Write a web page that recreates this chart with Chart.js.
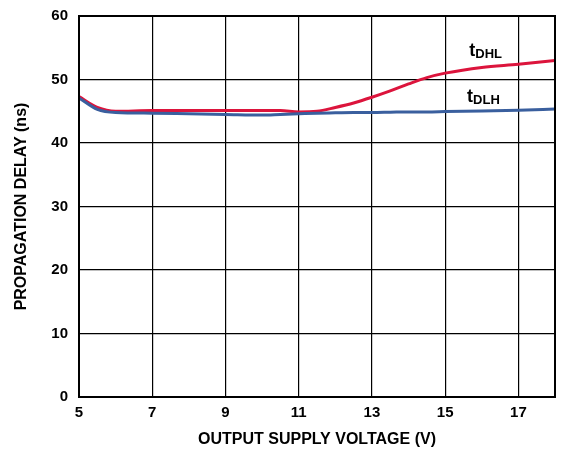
<!DOCTYPE html>
<html>
<head>
<meta charset="utf-8">
<script src="https://cdn.jsdelivr.net/npm/chart.js@4"></script>
<style>
  html, body { margin: 0; padding: 0; background: #fff; }
  #wrap { width: 564px; height: 453px; }
</style>
</head>
<body>
<div id="wrap"><canvas id="delayChart" width="564" height="453"></canvas></div>
<script>
const voltage = [5, 5.5, 6, 7, 8, 9, 10, 10.5, 11, 11.5, 12, 12.5, 13, 13.5, 14, 14.5, 15, 16, 17, 18];
const tDHL = [47.3, 45.6, 45.0, 45.1, 45.1, 45.1, 45.1, 45.1, 44.9, 45.0, 45.6, 46.3, 47.2, 48.2, 49.3, 50.3, 51.0, 51.9, 52.4, 53.0];
const tDLH = [47.1, 45.3, 44.8, 44.7, 44.6, 44.5, 44.4, 44.5, 44.6, 44.7, 44.75, 44.8, 44.8, 44.85, 44.9, 44.9, 44.95, 45.05, 45.15, 45.35];
const xTicks = [5, 7, 9, 11, 13, 15, 17];
const yTicks = [0, 10, 20, 30, 40, 50, 60];

const seriesLabels = [
  { main: 't', sub: 'DHL', x: 15.66, y: 53.7 },
  { main: 't', sub: 'DLH', x: 15.6, y: 46.5 }
];

const pairs = (ys) => voltage.map((v, i) => ({ x: v, y: ys[i] }));

const frameAndLabels = {
  id: 'frameAndLabels',
  afterDatasetsDraw(chart) {
    const { ctx, chartArea: a, scales } = chart;
    ctx.save();
    ctx.strokeStyle = '#000';
    ctx.lineWidth = 2;
    ctx.strokeRect(a.left, a.top, a.right - a.left, a.bottom - a.top);
    ctx.fillStyle = '#000';
    ctx.textBaseline = 'alphabetic';
    seriesLabels.forEach(l => {
      const px = scales.x.getPixelForValue(l.x);
      const py = scales.y.getPixelForValue(l.y);
      ctx.font = 'bold 18px "Liberation Sans", Arial, sans-serif';
      ctx.fillText(l.main, px, py);
      const w = ctx.measureText(l.main).width;
      ctx.font = 'bold 13px "Liberation Sans", Arial, sans-serif';
      ctx.fillText(l.sub, px + w, py + 2);
    });
    ctx.restore();
  }
};

const tickFont = { family: '"Liberation Sans", Arial, sans-serif', size: 15, weight: 'bold' };
const titleFont = { family: '"Liberation Sans", Arial, sans-serif', size: 16, weight: 'bold' };

new Chart(document.getElementById('delayChart'), {
  type: 'line',
  data: {
    datasets: [
      {
        label: 'tDLH',
        data: pairs(tDLH),
        borderColor: '#3a5f9e',
        borderWidth: 3,
        pointRadius: 0,
        cubicInterpolationMode: 'monotone',
        fill: false
      },
      {
        label: 'tDHL',
        data: pairs(tDHL),
        borderColor: '#dc143c',
        borderWidth: 3,
        pointRadius: 0,
        cubicInterpolationMode: 'monotone',
        fill: false
      }
    ]
  },
  options: {
    responsive: false,
    animation: false,
    layout: { padding: { left: 0, right: 9, top: 16, bottom: 0 } },
    plugins: { legend: { display: false }, tooltip: { enabled: false } },
    scales: {
      x: {
        type: 'linear',
        min: 5,
        max: 18,
        afterBuildTicks: (s) => { s.ticks = xTicks.map(v => ({ value: v })); },
        afterFit: (s) => { s.height = 56; s.paddingLeft = 0; s.paddingRight = 0; },
        grid: { color: '#000', lineWidth: 1.2, drawTicks: false },
        border: { display: false },
        ticks: { color: '#000', font: tickFont, padding: 7, maxRotation: 0 },
        title: { display: true, text: 'OUTPUT SUPPLY VOLTAGE (V)', color: '#000', font: titleFont, padding: { top: 0, bottom: 4 } }
      },
      y: {
        min: 0,
        max: 60,
        afterBuildTicks: (s) => { s.ticks = yTicks.map(v => ({ value: v })); },
        afterFit: (s) => { s.width = 79; s.paddingTop = 0; s.paddingBottom = 0; },
        grid: { color: '#000', lineWidth: 1.2, drawTicks: false },
        border: { display: false },
        ticks: { color: '#000', font: tickFont, padding: 11 },
        title: { display: true, text: 'PROPAGATION DELAY (ns)', color: '#000', font: titleFont, padding: { top: 12, bottom: 0 } }
      }
    }
  },
  plugins: [frameAndLabels]
});
</script>
</body>
</html>
